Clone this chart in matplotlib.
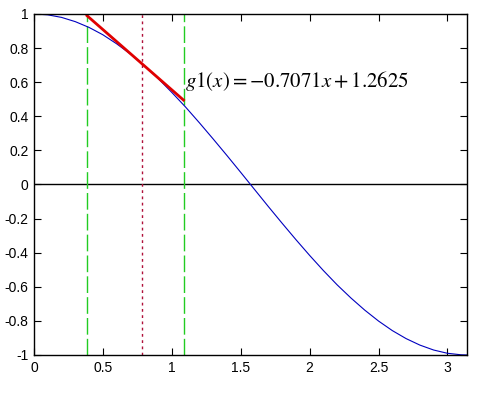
import numpy as np
import matplotlib
matplotlib.use("Agg")
import matplotlib.pyplot as plt

plt.rcParams['font.family'] = ['Liberation Sans', 'DejaVu Sans']
plt.rcParams['mathtext.fontset'] = 'stix'

# curve (cos-like)
xs = [0.0, 0.1, 0.2, 0.3, 0.4, 0.5, 0.6, 0.7, 0.8, 0.9, 1.0, 1.1, 1.2, 1.3, 1.4,
      1.5, 1.6, 1.7, 1.8, 1.9, 2.0, 2.1, 2.2, 2.3, 2.4, 2.5, 2.6, 2.7, 2.8, 2.9,
      3.0, 3.1, 3.1416]
ys = [1.0, 0.995, 0.980, 0.955, 0.921, 0.878, 0.825, 0.765, 0.697, 0.622, 0.540,
      0.454, 0.362, 0.267, 0.170, 0.071, -0.029, -0.129, -0.227, -0.323, -0.416,
      -0.505, -0.589, -0.666, -0.737, -0.801, -0.857, -0.904, -0.942, -0.971,
      -0.990, -0.999, -1.0]

# tangent segment
tan_x = [0.385, 1.085]
tan_y = [0.990, 0.495]

x0 = 0.7854          # point of tangency
bounds = [0.385, 1.085]
label = r'$g1(x) = -0.7071x + 1.2625$'

fig = plt.figure(figsize=(4.96, 3.95), dpi=100)
ax = fig.add_axes([0.0685, 0.1013, 0.873, 0.8633])

ax.axhline(0, color='black', lw=1.0)
for b in bounds:
    ax.axvline(b, color='#22cc22', lw=1.0, ls=(0, (12, 3)))
ax.axvline(x0, color='#b0103a', lw=1.0, ls=(0, (2, 2.5)))
ax.plot(xs, ys, color='#0000c0', lw=0.8)
ax.plot(tan_x, tan_y, color='#e00000', lw=2.0)
ax.text(1.095, 0.605, label, fontsize=15, va='center', ha='left')

ax.set_xlim(0, np.pi)
ax.set_ylim(-1, 1)
ax.set_xticks([0, 0.5, 1, 1.5, 2, 2.5, 3])
ax.set_xticklabels(['0', '0.5', '1', '1.5', '2', '2.5', '3'])
yt = [-1, -0.8, -0.6, -0.4, -0.2, 0, 0.2, 0.4, 0.6, 0.8, 1]
ax.set_yticks(yt)
ax.set_yticklabels(['-1', '-0.8', '-0.6', '-0.4', '-0.2', '0', '0.2', '0.4', '0.6', '0.8', '1'])
ax.tick_params(direction='in', top=True, right=True, length=5, width=0.8,
               labelsize=10, pad=4)
for s in ax.spines.values():
    s.set_linewidth(1.0)

fig.savefig('out.png', dpi=100)
